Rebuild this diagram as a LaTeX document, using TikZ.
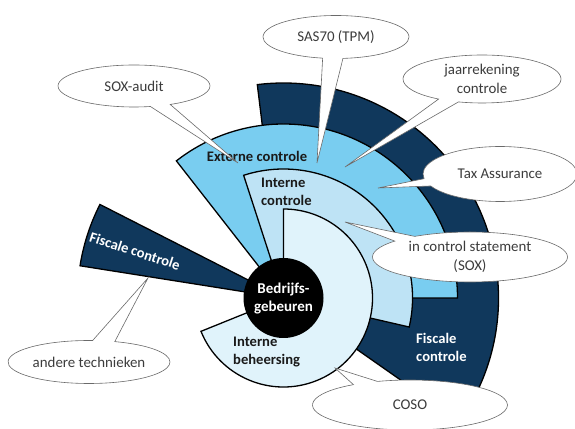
\documentclass[tikz,border=0pt]{standalone}
\usepackage{fontspec}
\setmainfont{Carlito}
\usetikzlibrary{shapes.callouts}
\definecolor{navy}{HTML}{10385C}
\definecolor{midblue}{HTML}{79CDF0}
\definecolor{lightblue}{HTML}{BEE3F5}
\definecolor{paleblue}{HTML}{E0F3FB}
\definecolor{bubbleline}{HTML}{6A6A6A}
\definecolor{txt}{HTML}{1A1A1A}
\begin{document}
\begin{tikzpicture}[x=1pt,y=1pt,
  sector/.style={draw=black,line width=1.3pt,line join=miter},
  lbl/.style={font=\fontsize{14.6}{18}\selectfont\bfseries, text=txt, align=left, inner sep=0pt},
  wlbl/.style={lbl,text=white},
  bubble/.style={ellipse callout, draw=bubbleline, line width=0.6pt, fill=white,
    font=\fontsize{14.9}{19}\selectfont, text=txt!85, align=center, inner sep=0pt,
    callout pointer arc=16}
]
\useasboundingbox (0,0) rectangle (575,428);
\coordinate (c) at (283.5,130);
% sectors
\filldraw[sector,fill=navy] (c) -- ++(-35:215) arc[start angle=-35,end angle=97,radius=215] -- cycle;
\filldraw[sector,fill=navy] (c) -- ++(153:206) arc[start angle=153,end angle=171,radius=206] -- cycle;
\filldraw[sector,fill=midblue] (c) -- ++(0:174) arc[start angle=0,end angle=128,radius=174] -- cycle;
\filldraw[sector,fill=lightblue] (c) -- ++(-13:129) arc[start angle=-13,end angle=108,radius=129] -- cycle;
\filldraw[sector,fill=paleblue] (c) -- ++(-158:89) arc[start angle=-158,end angle=90,radius=89] -- cycle;
\fill[black] (c) circle[radius=40];
% labels
\node[lbl] (ext) at (257,272) {Externe controle};
\node[lbl,anchor=west] (intc) at (261,236) {Interne\\controle};
\node[wlbl,align=center,font=\fontsize{15}{18}\selectfont\bfseries] (bedr) at (283.5,129) {Bedrijfs-\\gebeuren};
\node[lbl,anchor=west] (intb) at (233,75.5) {Interne\\beheersing};
\node[wlbl,anchor=west] (fisc) at (416,81) {Fiscale\\controle};
\node[wlbl,rotate=-18] (fiscl) at (135,177) {Fiscale controle};
% pointer tips
\coordinate (t1) at (238,265);
\coordinate (t2) at (317,265);
\coordinate (t3) at (345,261);
\coordinate (t4) at (378,240);
\coordinate (t5) at (345,206);
\coordinate (t6) at (335,60);
\coordinate (t7) at (148,150);
% bubbles
\node[bubble,minimum width=152pt,minimum height=42pt,callout absolute pointer={(t1)}] (soxaudit) at (134,342) {SOX-audit};
\node[bubble,minimum width=146pt,minimum height=43pt,callout absolute pointer={(t2)}] (sas) at (336,391) {SAS70 (TPM)};
\node[bubble,minimum width=158pt,minimum height=48pt,callout absolute pointer={(t3)}] (jaar) at (482,349) {jaarrekening\\controle};
\node[bubble,minimum width=154pt,minimum height=55pt,callout absolute pointer={(t4)}] (tax) at (500,254) {Tax Assurance};
\node[bubble,minimum width=195pt,minimum height=50pt,callout absolute pointer={(t5)}] (ics) at (470,171) {in control statement\\(SOX)};
\node[bubble,minimum width=195pt,minimum height=50pt,callout absolute pointer={(t6)}] (coso) at (410,23) {COSO};
\node[bubble,minimum width=162pt,minimum height=43pt,callout absolute pointer={(t7)}] (andere) at (89,66) {andere technieken};
\end{tikzpicture}
\end{document}
